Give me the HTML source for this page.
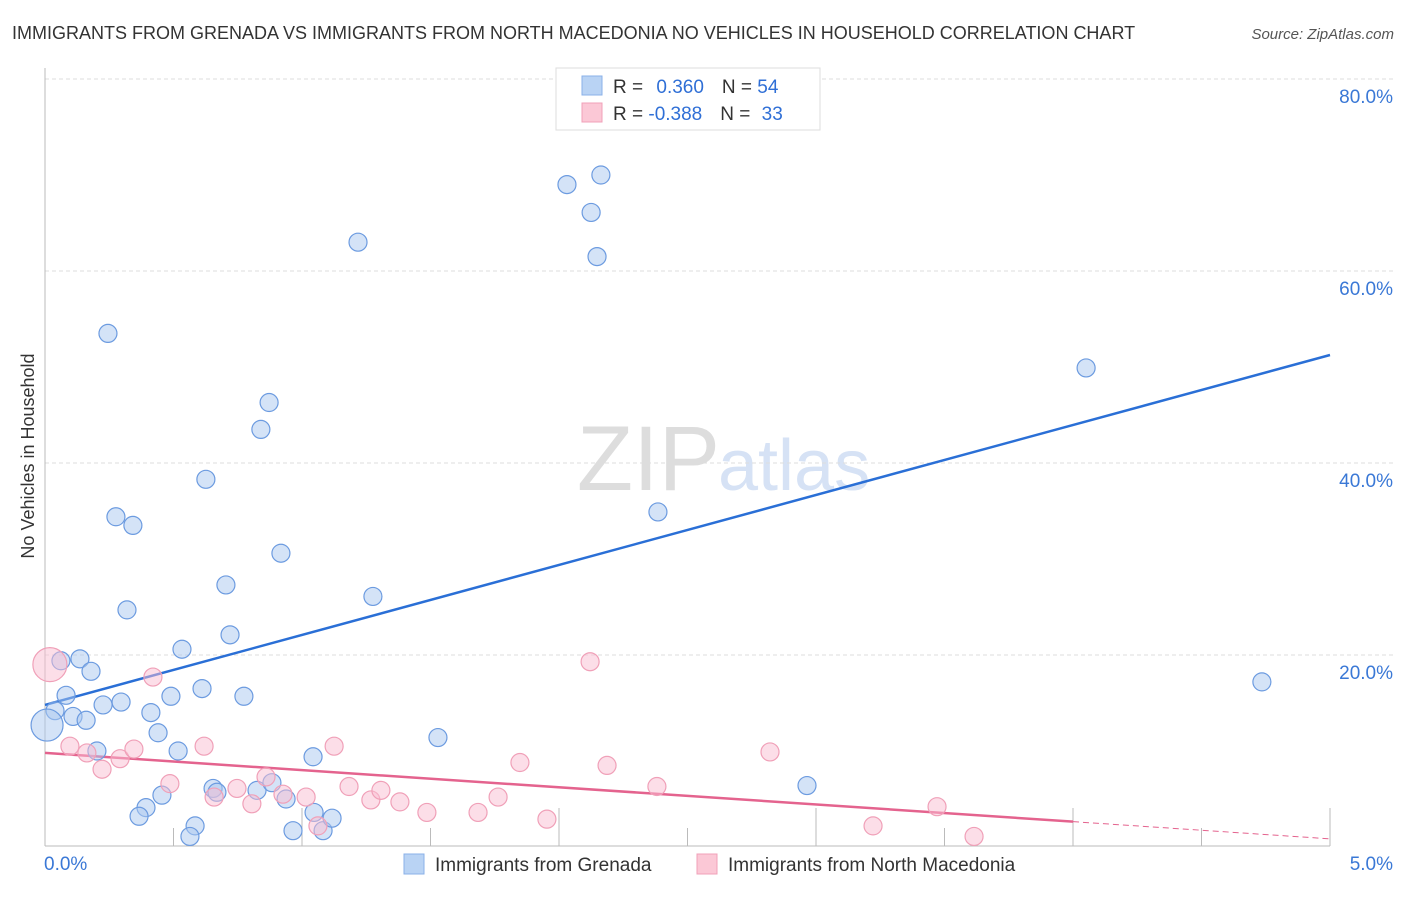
<!DOCTYPE html>
<html><head><meta charset="utf-8"><style>
body{margin:0;background:#fff;font-family:"Liberation Sans",sans-serif;}
svg text{font-family:"Liberation Sans",sans-serif;}
</style></head><body>
<svg width="1406" height="892" id="chart">
<text x="12" y="39" font-size="18" fill="#333">IMMIGRANTS FROM GRENADA VS IMMIGRANTS FROM NORTH MACEDONIA NO VEHICLES IN HOUSEHOLD CORRELATION CHART</text>
<text x="1394" y="39" font-size="15" fill="#555" font-style="italic" text-anchor="end">Source: ZipAtlas.com</text>
<text x="720" y="490" font-size="92" fill="#ddd" text-anchor="end" font-family="Liberation Serif">ZIP</text>
<text x="718" y="490" font-size="72" fill="#d6e2f5">atlas</text>
<text transform="translate(34,456) rotate(-90)" font-size="18" fill="#333" text-anchor="middle">No Vehicles in Household</text>
<g id="grid"></g><g id="axes"></g><g id="trend"></g><g id="pts"></g>
<g>
<rect x="556" y="68" width="264" height="62" fill="#fff" stroke="#ddd"/>
<rect x="582" y="76" width="20" height="19" fill="#b9d3f4" stroke="#8ab0e8"/>
<rect x="582" y="103" width="20" height="19" fill="#fbc8d6" stroke="#f0a0b8"/>
<text x="613" y="93" font-size="19" fill="#333">R = <tspan fill="#2f6fd6" dx="8">0.360</tspan><tspan fill="#333" dx="18">N = </tspan><tspan fill="#2f6fd6">54</tspan></text>
<text x="613" y="120" font-size="19" fill="#333">R = <tspan fill="#2f6fd6">-0.388</tspan><tspan fill="#333" dx="18">N = </tspan><tspan fill="#2f6fd6" dx="6">33</tspan></text>
</g>
<g>
<rect x="404" y="854" width="20" height="20" fill="#b9d3f4" stroke="#8ab0e8"/>
<text x="435" y="871" font-size="19" fill="#333">Immigrants from Grenada</text>
<rect x="697" y="854" width="20" height="20" fill="#fbc8d6" stroke="#f0a0b8"/>
<text x="728" y="871" font-size="19" fill="#333">Immigrants from North Macedonia</text>
</g>
</svg>
<script>
const blueX=[.245,.276,.342,.319,.626,.840,.872,.918,.704,.720,.533,1.218,2.031,2.163,2.125,2.148,1.276,2.385,4.051,4.735,.062,.136,.179,.082,.039,.008,.109,.160,.226,.296,.412,.490,.611,.774,.440,.518,.202,1.529,1.043,2.965,.654,.669,.825,.883,.938,.455,.393,.366,.584,.564,.965,1.047,1.082,1.117];
const blueY=[53.5,34.4,33.5,24.7,38.3,43.5,46.3,30.6,27.3,22.1,20.6,63.0,69.0,70.0,66.1,61.5,26.1,34.9,49.9,17.2,19.4,19.6,18.3,15.8,14.2,12.7,13.6,13.2,14.8,15.1,14.0,15.7,16.5,15.7,11.9,10.0,10.0,11.4,9.4,6.4,6.1,5.7,5.9,6.7,5.0,5.4,4.1,3.2,2.2,1.1,1.7,3.6,1.7,3.0];
const pinkX=[.019,.097,.163,.222,.292,.346,.420,.486,.619,.658,.747,.805,.860,.926,1.016,1.125,1.183,1.268,1.307,1.381,1.486,1.685,1.763,1.848,1.953,2.121,2.187,2.381,2.821,3.222,3.471,3.615,1.062];
const pinkY=[19.0,10.5,9.8,8.1,9.2,10.2,17.7,6.6,10.5,5.2,6.1,4.5,7.3,5.5,5.2,10.5,6.3,4.9,5.9,4.7,3.6,3.6,5.2,8.8,2.9,19.3,8.5,6.3,9.9,2.2,4.2,1.1,2.2];
const yTicks=[20,40,60,80];
const yTickLabels=["20.0%","40.0%","60.0%","80.0%"];
const xTickLabels=["0.0%","5.0%"];
const blueTrend=[14.8,7.29];
const pinkTrend=[9.8,-1.79];
const pinkSolidEnd=4.0;
const X=v=>45+v*257, Y=v=>847-v*9.6;
const NS="http://www.w3.org/2000/svg";
function mk(tag,attrs,parent){const e=document.createElementNS(NS,tag);for(const k in attrs)e.setAttribute(k,attrs[k]);document.getElementById(parent).appendChild(e);return e;}
yTicks.forEach((t,i)=>{
 const l=mk('line',{x1:45,x2:1394,y1:Y(t),y2:Y(t),stroke:'#ddd','stroke-dasharray':'4,3'},'grid');
 
 
 const tx=mk('text',{x:1393,y:Y(t)+24,'font-size':19,fill:'#3a78d6','text-anchor':'end'},'grid');
 tx.textContent=yTickLabels[i];
 
 
});
let a=mk('line',{x1:45,x2:45,y1:68,y2:846,stroke:'#bbb'},'axes');


a=mk('line',{x1:45,x2:1330,y1:846,y2:846,stroke:'#bbb'},'axes');


for(let i=1;i<=10;i++){const v=i*0.5;const tk=mk('line',{x1:X(v),x2:X(v),y1:i%2?828:808,y2:846,stroke:'#bbb'},'axes');
 
 }
[0,5].forEach((v,i)=>{const tx=mk('text',{x:i?1393:44,y:870,'font-size':19,fill:'#3a78d6','text-anchor':i?'end':'start'},'axes');tx.textContent=xTickLabels[i];
 
 });
let t=mk('line',{x1:X(0),y1:Y(blueTrend[0]),x2:X(5),y2:Y(blueTrend[0]+blueTrend[1]*5),stroke:'#2a6fd6','stroke-width':2.5},'trend');


t=mk('line',{x1:X(0),y1:Y(pinkTrend[0]),x2:X(pinkSolidEnd),y2:Y(pinkTrend[0]+pinkTrend[1]*pinkSolidEnd),stroke:'#e4638e','stroke-width':2.5},'trend');


t=mk('line',{x1:X(pinkSolidEnd),y1:Y(pinkTrend[0]+pinkTrend[1]*pinkSolidEnd),x2:X(5),y2:Y(pinkTrend[0]+pinkTrend[1]*5),stroke:'#e4638e','stroke-width':1,'stroke-dasharray':'6,4'},'trend');


blueX.forEach((x,i)=>{const c=mk('circle',{cx:X(x),cy:Y(blueY[i]),r:i==25?16:9,fill:'rgba(170,200,240,0.5)',stroke:'#6c9be0','stroke-width':1.2},'pts');
 
 });
pinkX.forEach((x,i)=>{const c=mk('circle',{cx:X(x),cy:Y(pinkY[i]),r:i==0?17:9,fill:'rgba(250,190,210,0.5)',stroke:'#f0a0b8','stroke-width':1.2},'pts');
 
 });
</script>
</body></html>
